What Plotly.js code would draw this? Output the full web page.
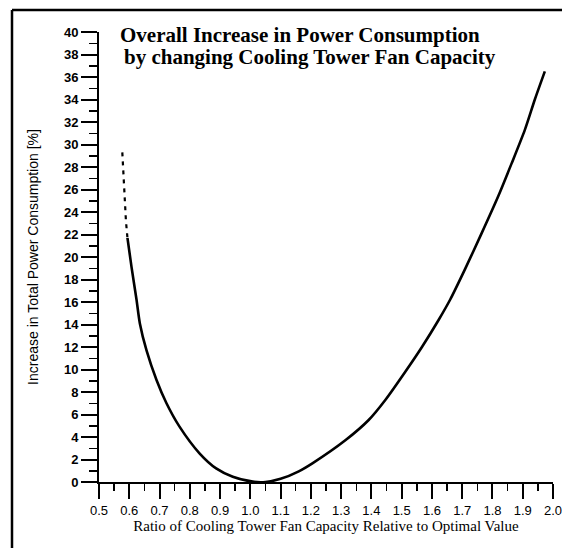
<!DOCTYPE html>
<html>
<head>
<meta charset="utf-8">
<script src="https://cdn.plot.ly/plotly-3.0.1.min.js"></script>
<style>html,body{margin:0;padding:0;background:#fff;}#chart{width:562px;height:548px;}</style>
</head>
<body>
<div id="chart"></div>
<script>
// Solid part of the curve
const ratioSolid = [0.594, 0.6075, 0.624, 0.635, 0.657, 0.690, 0.723, 0.766, 0.832, 0.887, 0.942, 1.008, 1.05, 1.100, 1.160, 1.205, 1.315, 1.391, 1.446, 1.512, 1.567, 1.622, 1.660, 1.709, 1.764, 1.819, 1.863, 1.907, 1.940, 1.973];
const increaseSolid = [21.7, 19.1, 16.2, 14.1, 11.7, 9.07, 7.0, 4.92, 2.55, 1.21, 0.47, 0.03, 0.0, 0.28, 0.95, 1.66, 3.73, 5.51, 7.29, 9.8, 12.0, 14.4, 16.2, 18.9, 22.1, 25.4, 28.3, 31.3, 34.0, 36.5];
// Dashed (extrapolated) part at low ratios
const ratioDashed = [0.577, 0.583, 0.589, 0.594];
const increaseDashed = [29.3, 26.0, 23.2, 21.7];

const xTickVals = [0.5,0.6,0.7,0.8,0.9,1.0,1.1,1.2,1.3,1.4,1.5,1.6,1.7,1.8,1.9,2.0];
const xTickText = ['0.5','0.6','0.7','0.8','0.9','1.0','1.1','1.2','1.3','1.4','1.5','1.6','1.7','1.8','1.9','2.0'];
const yTickVals = [0,2,4,6,8,10,12,14,16,18,20,22,24,26,28,30,32,34,36,38,40];

const titleLine1 = 'Overall Increase in Power Consumption';
const titleLine2 = 'by changing Cooling Tower Fan Capacity';

const traces = [
  {x: ratioDashed, y: increaseDashed, mode: 'lines', line: {color: '#000', width: 2.2, dash: '4px,5px'}, hoverinfo: 'skip'},
  {x: ratioSolid, y: increaseSolid, mode: 'lines', line: {color: '#000', width: 2.6, shape: 'spline', smoothing: 0.7}, hoverinfo: 'skip'}
];

const PL = 99, PR = 553, PT = 32, PB = 482;
const PW = PR - PL, PH = PB - PT;
const px = v => (v - PL) / PW;
const py = v => (PB - v) / PH;

const titleFont = {family: 'Liberation Serif, Times New Roman, serif', size: 21, color: '#000'};

const layout = {
  width: 562, height: 548,
  margin: {l: PL, r: 562 - PR, t: PT, b: 548 - PB},
  paper_bgcolor: '#fff', plot_bgcolor: '#fff',
  showlegend: false,
  xaxis: {
    range: [0.5, 2.0],
    tickmode: 'array', tickvals: xTickVals, ticktext: xTickText,
    ticks: 'outside', ticklen: 15, tickwidth: 2, tickcolor: '#000',
    minor: {dtick: 0.05, ticks: 'outside', ticklen: 7, tickwidth: 1.5, tickcolor: '#000'},
    showline: true, linecolor: '#000', linewidth: 2,
    showgrid: false, zeroline: false,
    ticklabeloverflow: 'allow',
    tickfont: {family: 'Liberation Sans, Arial, sans-serif', size: 13, color: '#000'},
    title: {text: 'Ratio of Cooling Tower Fan Capacity Relative to Optimal Value', font: {family: 'Liberation Serif, Times New Roman, serif', size: 15, color: '#000'}, standoff: 2}
  },
  yaxis: {
    range: [0, 40],
    tickmode: 'array', tickvals: yTickVals,
    ticks: 'outside', ticklen: 16, tickwidth: 2, tickcolor: '#000',
    minor: {dtick: 1, ticks: 'outside', ticklen: 8, tickwidth: 1.5, tickcolor: '#000'},
    showline: true, linecolor: '#000', linewidth: 2,
    showgrid: false, zeroline: false,
    tickfont: {family: 'Liberation Sans, Arial, sans-serif', size: 13, color: '#000', weight: 'bold'},
    title: {text: 'Increase in Total Power Consumption [%]', font: {family: 'Liberation Sans, Arial, sans-serif', size: 14, color: '#000'}, standoff: 22}
  },
  annotations: [
    {text: '<b>' + titleLine1 + '</b>', xref: 'paper', yref: 'paper', x: px(300), y: py(35), xanchor: 'center', yanchor: 'middle', showarrow: false, font: titleFont},
    {text: '<b>' + titleLine2 + '</b>', xref: 'paper', yref: 'paper', x: px(310), y: py(57), xanchor: 'center', yanchor: 'middle', showarrow: false, font: titleFont}
  ],
  shapes: [
    {type: 'line', xref: 'paper', yref: 'paper', x0: px(12), x1: px(12), y0: py(10), y1: py(548), line: {color: '#000', width: 2.5}},
    {type: 'line', xref: 'paper', yref: 'paper', x0: px(12), x1: px(562), y0: py(10), y1: py(10), line: {color: '#000', width: 2.5}}
  ]
};

Plotly.newPlot('chart', traces, layout, {staticPlot: true, displayModeBar: false});
</script>
</body>
</html>
